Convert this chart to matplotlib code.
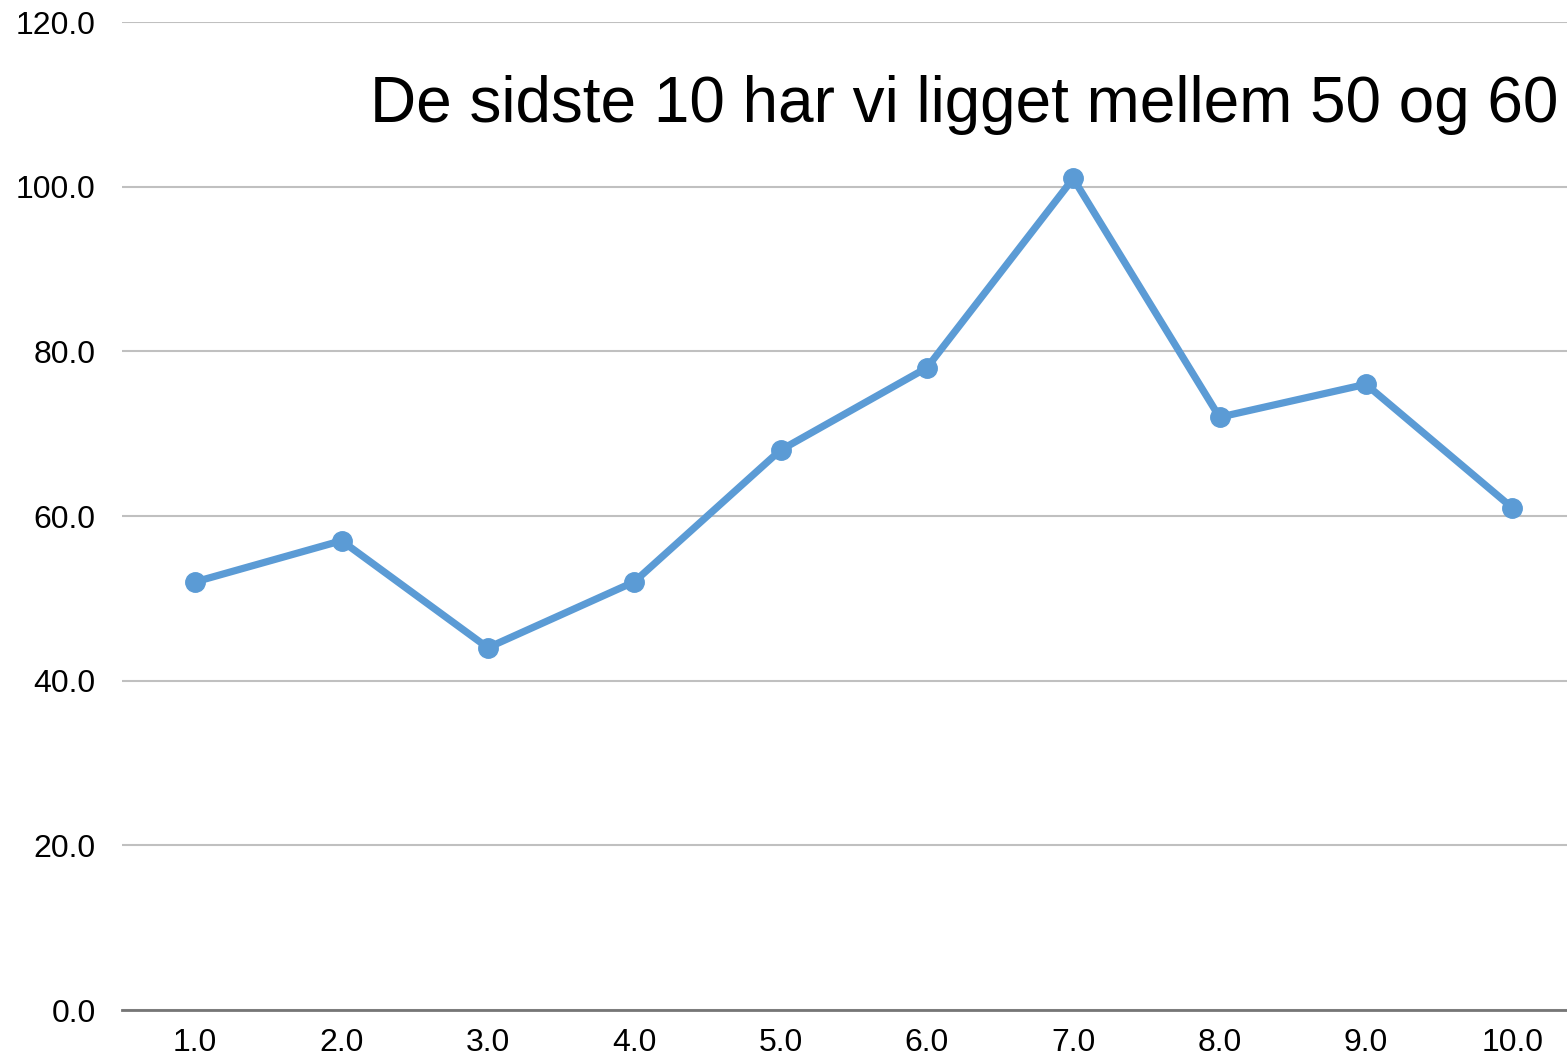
import matplotlib
matplotlib.use("Agg")
import matplotlib.pyplot as plt
import matplotlib.ticker as ticker

x_vals = [1, 2, 3, 4, 5, 6, 7, 8, 9, 10]
y_vals = [52, 57, 44, 52, 68, 78, 101, 72, 76, 61]
title = "De sidste 10 har vi ligget mellem 50 og 60"

plt.rcParams['font.family'] = ['Liberation Sans', 'DejaVu Sans']

fig = plt.figure(figsize=(15.67, 10.58), dpi=100)
W, H = 1567.0, 1058.0
# axes spans 0.5 .. 10.5, cropped on the right by the figure edge
ax = fig.add_axes([122 / W, 48 / H, 1463.4 / W, 988 / H])
ax.set_xlim(0.5, 10.5)
ax.set_ylim(0, 120)

ax.plot(x_vals, y_vals, color='#5b9bd5', lw=5.2, marker='o', ms=14,
        solid_capstyle='round', solid_joinstyle='round', clip_on=False, zorder=3)

ax.set_xticks(x_vals)
ax.set_yticks(range(0, 121, 20))
ax.xaxis.set_major_formatter(ticker.StrMethodFormatter("{x:.1f}"))
ax.yaxis.set_major_formatter(ticker.StrMethodFormatter("{x:.1f}"))
ax.tick_params(axis='both', length=0, labelsize=23, colors='black')
ax.tick_params(axis='y', pad=19)
ax.tick_params(axis='x', pad=13)

ax.grid(axis='y', color='#c0c0c0', lw=1.5)
ax.set_axisbelow(True)
for s in ['top', 'right', 'left']:
    ax.spines[s].set_visible(False)
ax.spines['bottom'].set_color('#767676')
ax.spines['bottom'].set_linewidth(2)
ax.spines['bottom'].set_zorder(2)

fig.text(1558 / W, 1 - 122 / H, title, ha='right', va='baseline', fontsize=46, color='black')

fig.savefig('out.png', dpi=100)
